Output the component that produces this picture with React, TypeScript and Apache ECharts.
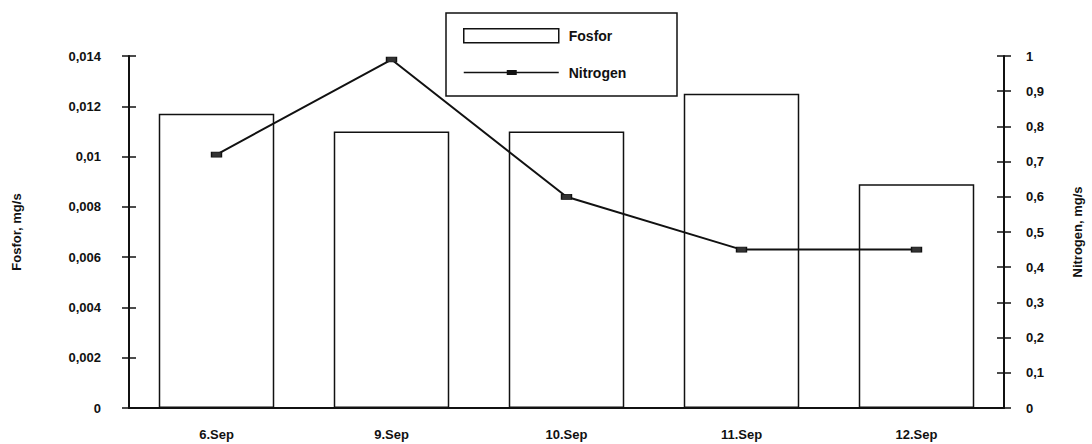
import React, { useEffect, useRef } from "react";
import * as echarts from "echarts";

const categories = ["6.Sep", "9.Sep", "10.Sep", "11.Sep", "12.Sep"];
const fosforValues = [0.0117, 0.011, 0.011, 0.0125, 0.0089];
const nitrogenValues = [0.72, 0.99, 0.6, 0.45, 0.45];
const fosforTicks = ["0", "0,002", "0,004", "0,006", "0,008", "0,01", "0,012", "0,014"];
const nitrogenTicks = ["0", "0,1", "0,2", "0,3", "0,4", "0,5", "0,6", "0,7", "0,8", "0,9", "1"];
const fosforName = "Fosfor, mg/s";
const nitrogenName = "Nitrogen, mg/s";

const FONT = '"Liberation Sans", Arial, sans-serif';
const INK = "#111";

export default function App() {
  const ref = useRef<HTMLDivElement>(null);
  useEffect(() => {
    if (!ref.current) return;
    const chart = echarts.init(ref.current, null, { renderer: "svg" });
    const labelStyle = { fontFamily: FONT, fontWeight: "bold" as const, fontSize: 13, color: INK };
    const hiddenAxisBase = {
      axisLine: { show: false },
      axisLabel: { show: false },
      splitLine: { show: false },
    };
    chart.setOption({
      animation: false,
      backgroundColor: "#fff",
      textStyle: { fontFamily: FONT },
      grid: { left: 129, right: 82, top: 56, bottom: 36 },
      legend: {
        orient: "vertical",
        left: 463,
        top: 28,
        itemWidth: 95,
        itemHeight: 14,
        itemGap: 22,
        padding: 0,
        textStyle: { ...labelStyle, fontSize: 14, padding: [0, 0, 0, 5] },
        data: [
          { name: "Fosfor", icon: "rect", itemStyle: { color: "#fff", borderColor: INK, borderWidth: 1.5 } },
          {
            name: "Nitrogen",
            icon: "path://M0 0 M95 14 M0 6.2 L95 6.2 L95 7.8 L0 7.8 Z M43 4.5 L53 4.5 L53 9.5 L43 9.5 Z",
            itemStyle: { color: INK, borderWidth: 0 },
          },
        ],
      },
      graphic: [
        {
          type: "rect",
          shape: { x: 446, y: 13, width: 231, height: 83 },
          style: { fill: "none", stroke: INK, lineWidth: 1.5 },
          silent: true,
        },
      ],
      xAxis: [
        {
          type: "category",
          data: categories,
          position: "bottom",
          axisLine: { lineStyle: { color: INK, width: 2 } },
          axisTick: { length: 5, lineStyle: { color: INK, width: 1.5 } },
          axisLabel: { ...labelStyle, margin: 20 },
        },
        {
          type: "category",
          data: categories,
          position: "bottom",
          ...hiddenAxisBase,
          axisTick: { inside: true, length: 5, lineStyle: { color: INK, width: 1.5 } },
        },
      ],
      yAxis: [
        {
          type: "value",
          position: "left",
          min: 0,
          max: 0.014,
          interval: 0.002,
          name: fosforName,
          nameLocation: "middle",
          nameRotate: 90,
          nameGap: 106,
          nameTextStyle: { ...labelStyle, fontSize: 13 },
          axisLine: { show: true, lineStyle: { color: INK, width: 2 } },
          axisTick: { show: true, length: 7, lineStyle: { color: INK, width: 1.5 } },
          axisLabel: { ...labelStyle, margin: 28, formatter: (_v: number, i: number) => fosforTicks[i] },
          splitLine: { show: false },
        },
        {
          type: "value",
          position: "right",
          min: 0,
          max: 1,
          interval: 0.1,
          name: nitrogenName,
          nameLocation: "middle",
          nameRotate: 90,
          nameGap: 67,
          nameTextStyle: { ...labelStyle, fontSize: 13 },
          axisLine: { show: true, lineStyle: { color: INK, width: 2 } },
          axisTick: { show: true, length: 7, lineStyle: { color: INK, width: 1.5 } },
          axisLabel: { ...labelStyle, margin: 22, formatter: (_v: number, i: number) => nitrogenTicks[i] },
          splitLine: { show: false },
        },
        {
          type: "value",
          position: "left",
          min: 0,
          max: 0.014,
          interval: 0.002,
          ...hiddenAxisBase,
          axisTick: { show: true, inside: true, length: 7, lineStyle: { color: INK, width: 1.5 } },
        },
        {
          type: "value",
          position: "right",
          min: 0,
          max: 1,
          interval: 0.1,
          ...hiddenAxisBase,
          axisTick: { show: true, inside: true, length: 7, lineStyle: { color: INK, width: 1.5 } },
        },
      ],
      series: [
        {
          name: "Fosfor",
          type: "bar",
          yAxisIndex: 0,
          data: fosforValues,
          barWidth: "66%",
          itemStyle: { color: "#fff", borderColor: INK, borderWidth: 1.5 },
        },
        {
          name: "Nitrogen",
          type: "line",
          yAxisIndex: 1,
          data: nitrogenValues,
          symbol: "rect",
          symbolSize: [10, 5],
          itemStyle: { color: "#333", borderColor: INK, borderWidth: 1 },
          lineStyle: { color: INK, width: 2 },
        },
      ],
    });
    return () => chart.dispose();
  }, []);
  return (
    <div
      ref={ref}
      style={{ position: "fixed", left: 0, top: 0, width: 1092, height: 444, background: "#fff" }}
    />
  );
}
